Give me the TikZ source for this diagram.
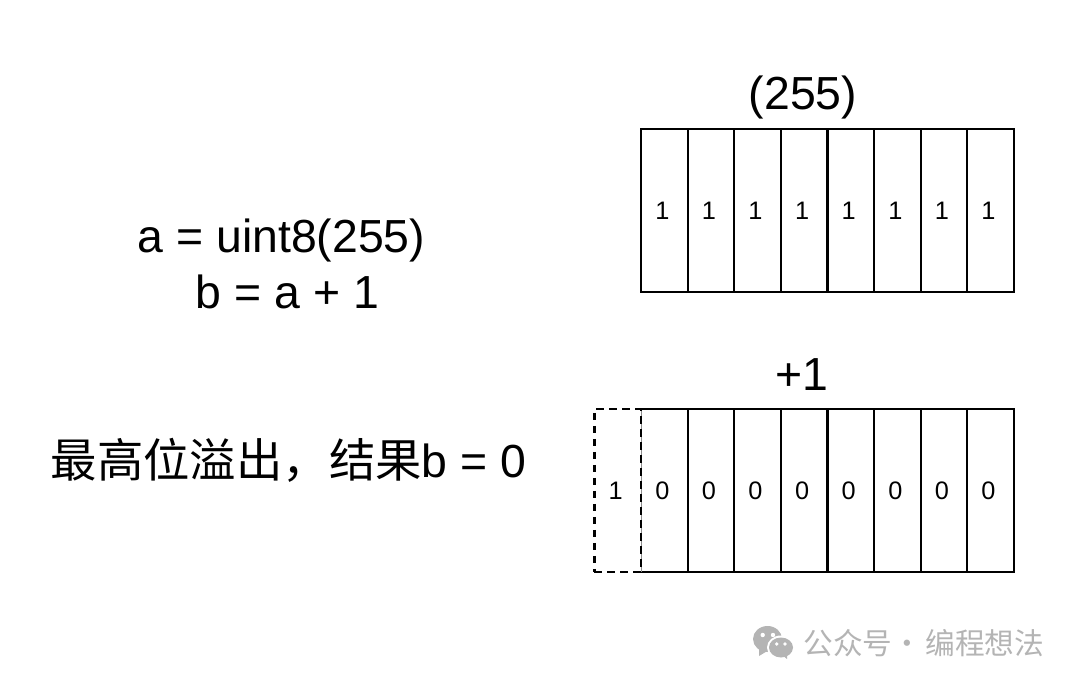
\documentclass[tikz,border=0pt]{standalone}
\usepackage{fontspec}
\setmainfont{Liberation Sans}
\newfontfamily\cjkfont{Noto Sans CJK SC}
\usetikzlibrary{positioning}
\definecolor{markgray}{HTML}{B4B4B4}
\newcommand{\bitval}[1]{\kern-0.08cm #1}
\begin{document}
\begin{tikzpicture}[x=0.02cm,y=-0.02cm,
    cell/.style={minimum width=0.932cm,minimum height=3.26cm,inner sep=0pt,outer sep=0pt,line width=1.25pt,font=\fontsize{14.4}{16}\selectfont},
    boxed/.style={cell,draw},
    spill/.style={cell,draw,dash pattern=on 4.2pt off 3.2pt},
    big/.style={font=\fontsize{26.4}{31.7}\selectfont,align=center,inner sep=0pt},
    brandtext/.style={font=\cjkfont\fontsize{16.9}{20}\selectfont,text=markgray,inner sep=0pt}]
  \useasboundingbox (0,0) rectangle (1080,686);
  % ---- left texts ----
  \node[big] (code) at (287.5,264) {a = uint8(255)\hspace*{0.24cm}\\b = a + 1};
  \node[big] (note) at (288.5,460) {{\cjkfont 最高位溢出，结果}b = 0};
  % ---- top row ----
  \node[big] (topval) at (803,97) {(255)};
  \foreach \i in {0,...,7}
    \node[boxed] (t\i) at ({664.3+46.6*\i},210.5) {\bitval{1}};
  % ---- bottom row ----
  \node[big] (plus) at (802,375) {+1};
  \node[cell] (z0) at (664.3,490.5) {\bitval{0}};
  \foreach \i in {1,...,7}
    \node[boxed] (z\i) at ({664.3+46.6*\i},490.5) {\bitval{0}};
  \draw[line width=1.25pt] (z0.north west)--(z0.north east) (z0.south west)--(z0.south east);
  \draw[black!45,line width=0.5pt] (z0.south west)--(z0.north west);
  \node[spill,left=0pt of z0] (carry) {\bitval{1}};
  % ---- watermark ----
  \node[brandtext,anchor=west] (brand) at (803,643) {公众号\hspace{-0.13cm} · \hspace{-0.07cm}编程想法};
  \fill[markgray] (767.5,639) ellipse (14.5 and 13);
  \fill[markgray] (759,648) -- (759,656) -- (769,650) -- cycle;
  \fill[white] (781,647.5) ellipse (14 and 12);
  \fill[markgray] (781,647.5) ellipse (12 and 10);
  \fill[markgray] (782,655) -- (787,659) -- (787,652) -- cycle;
  \foreach \ex/\ey/\er in {762.7/635/2.2,773/635/2.2,776.7/644/1.8,785/644/1.8}
    \fill[white] (\ex,\ey) circle (\er);
\end{tikzpicture}
\end{document}
